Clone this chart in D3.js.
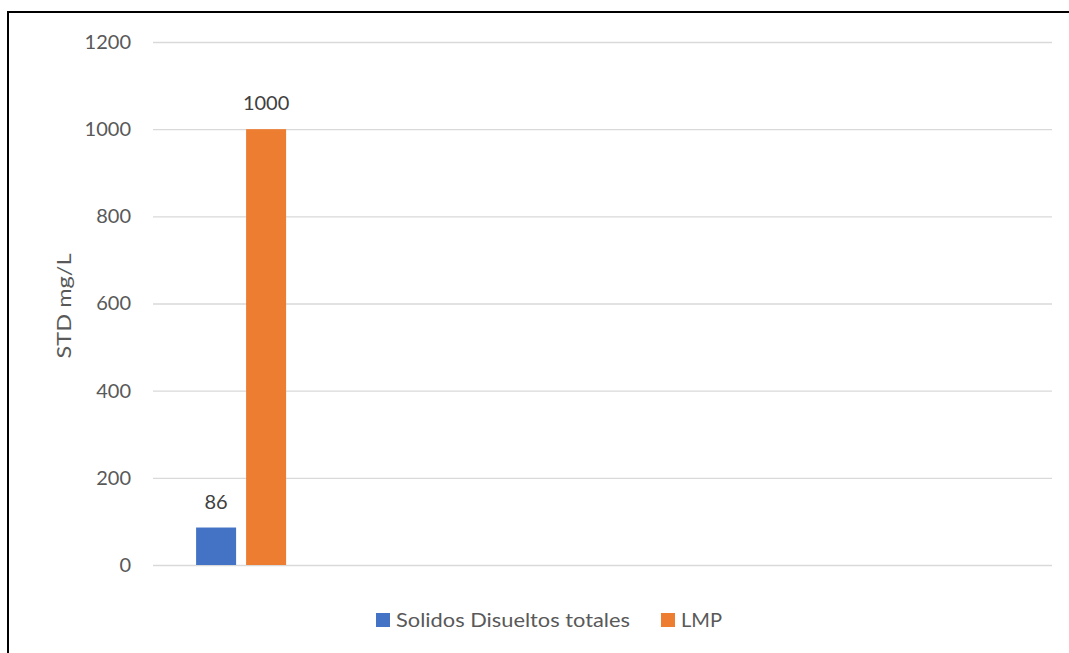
<!DOCTYPE html>
<html>
<head>
<meta charset="utf-8">
<script src="https://cdn.jsdelivr.net/npm/d3@7"></script>
<style>
  html, body { margin: 0; padding: 0; background: #fff; }
  svg { display: block; }
  text { font-family: Lato, "Open Sans", sans-serif; fill: #595959; }
</style>
</head>
<body>
<svg id="chart" width="1069" height="653"></svg>
<script>
// Category slots along the x axis (only the first holds data)
const categories = ["", " ", "  ", "   ", "    "];
const seriesNames = ["Solidos Disueltos totales", "LMP"];
const seriesColors = ["#4472C4", "#ED7D31"];
const solidosValues = [86, null, null, null, null];
const lmpValues = [1000, null, null, null, null];
const yTicks = [0, 200, 400, 600, 800, 1000, 1200];
const yTitle = "STD mg/L";

const svg = d3.select("#chart");
const W = 1069, H = 653;

// Outer chart frame
svg.append("rect")
  .attr("x", 8).attr("y", 12)
  .attr("width", W + 10).attr("height", H + 10)
  .attr("fill", "none").attr("stroke", "#000").attr("stroke-width", 2);

const plot = { left: 151, right: 1052, top: 42, bottom: 565 };

const y = d3.scaleLinear().domain([0, 1200]).range([plot.bottom, plot.top]);
const x0 = d3.scaleBand().domain(categories).range([plot.left, plot.right]);
const x1 = d3.scaleBand().domain(seriesNames).range([0, 90]).paddingInner(0.2);

// Gridlines + tick labels
const yAxis = d3.axisLeft(y).tickValues(yTicks).tickFormat(d3.format("d"))
  .tickSize(-(plot.right - 153)).tickPadding(22);
const gy = svg.append("g").attr("transform", `translate(153,0)`).call(yAxis);
gy.select(".domain").remove();
gy.selectAll(".tick line").attr("stroke", "#D9D9D9").attr("stroke-width", 1.3);
gy.selectAll(".tick text").attr("font-size", 20).attr("fill", "#595959")
  .style("font-family", "Lato, 'Open Sans', sans-serif");

// Bars
const rows = categories.map((c, i) => ({ cat: c, vals: [solidosValues[i], lmpValues[i]] }));
const groups = svg.append("g").selectAll("g").data(rows).join("g")
  .attr("transform", d => `translate(${x0(d.cat) + x0.bandwidth() / 2 - 45},0)`);

groups.selectAll("rect")
  .data(d => d.vals.map((v, j) => ({ name: seriesNames[j], v, color: seriesColors[j] })).filter(e => e.v != null))
  .join("rect")
  .attr("x", e => x1(e.name))
  .attr("width", x1.bandwidth())
  .attr("y", e => y(e.v))
  .attr("height", e => y(0) - y(e.v))
  .attr("fill", e => e.color);

// Value labels
groups.selectAll("text.val")
  .data(d => d.vals.map((v, j) => ({ name: seriesNames[j], v })).filter(e => e.v != null))
  .join("text")
  .attr("class", "val")
  .attr("x", e => x1(e.name) + x1.bandwidth() / 2)
  .attr("y", e => y(e.v) - 19)
  .attr("text-anchor", "middle")
  .attr("font-size", 20)
  .style("fill", "#404040")
  .text(e => e.v);

// Axis title
svg.append("text")
  .attr("transform", `translate(71,306) rotate(-90)`)
  .attr("text-anchor", "middle")
  .attr("font-size", 20)
  .attr("textLength", 105)
  .attr("lengthAdjust", "spacingAndGlyphs")
  .text(yTitle);

// Legend
const legend = svg.append("g");
const legendX = [376, 661];
const legendTextLen = [234, 41];
seriesNames.forEach((name, i) => {
  const g = legend.append("g").attr("transform", `translate(${legendX[i]},613)`);
  g.append("rect").attr("width", 14).attr("height", 14).attr("fill", seriesColors[i]);
  g.append("text").attr("x", 20).attr("y", 14).attr("font-size", 20)
    .attr("textLength", legendTextLen[i]).attr("lengthAdjust", "spacingAndGlyphs")
    .text(name);
});
</script>
</body>
</html>
